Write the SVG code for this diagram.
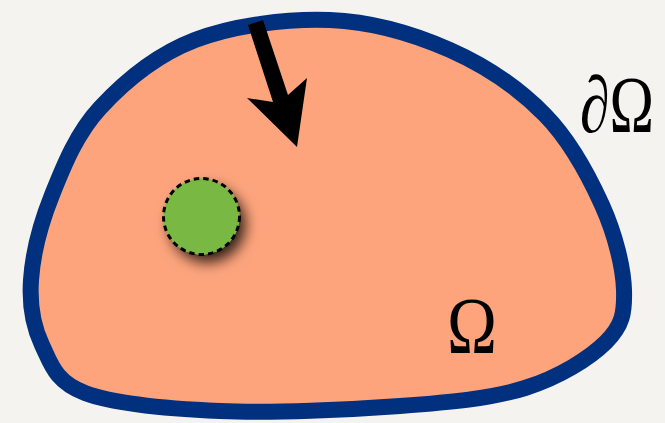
<svg xmlns="http://www.w3.org/2000/svg" width="665" height="423" viewBox="0 0 665 423">
<defs>
<filter id="shadow" x="-60%" y="-60%" width="220%" height="220%">
<feDropShadow dx="6" dy="8" stdDeviation="7" flood-color="#000" flood-opacity="0.8"/>
</filter>
</defs>
<style>
.lbl{font-family:"Liberation Serif","DejaVu Serif",serif;font-size:80px;fill:#000}
</style>
<rect x="0" y="0" width="665" height="423" fill="#f5f3ef"/>
<g id="domain">
<path d="M330,20 C372.5,21.7 414.2,34.2 450,50 C485.8,65.8 519.7,89.2 545,115 C570.3,140.8 588.8,175.8 602,205 C615.2,234.2 623.3,267.2 624,290 C624.7,312.8 622.5,325.7 606,342 C589.5,358.3 559.3,377.3 525,388 C490.7,398.7 450.8,402.2 400,406 C349.2,409.8 272.5,413.2 220,411 C167.5,408.8 114.7,404 85,393 C55.3,382 51,363.8 42,345 C33,326.2 29.3,305 31,280 C32.7,255 40.5,223.7 52,195 C63.5,166.3 76.2,133.8 100,108 C123.8,82.2 156.7,54.7 195,40 C233.3,25.3 287.5,18.3 330,20 Z" fill="#fda47c" stroke="#01307f" stroke-width="16"/>
</g>
<g id="inclusion">
<circle cx="201.5" cy="216.5" r="38" fill="#79b943" filter="url(#shadow)"/>
<circle cx="201.5" cy="216.5" r="38" fill="#79b943" stroke="#000" stroke-width="3" stroke-dasharray="5.5 4"/>
</g>
<g id="connectors">
<polygon points="248,25 263,20 288,95 307,78 297,147 247,98 273,102" fill="#000"/>
</g>
<g id="labels">
<text class="lbl" x="580" y="132" textLength="74" lengthAdjust="spacingAndGlyphs">∂Ω</text>
<text class="lbl" x="447" y="353" textLength="50" lengthAdjust="spacingAndGlyphs">Ω</text>
</g>
</svg>
